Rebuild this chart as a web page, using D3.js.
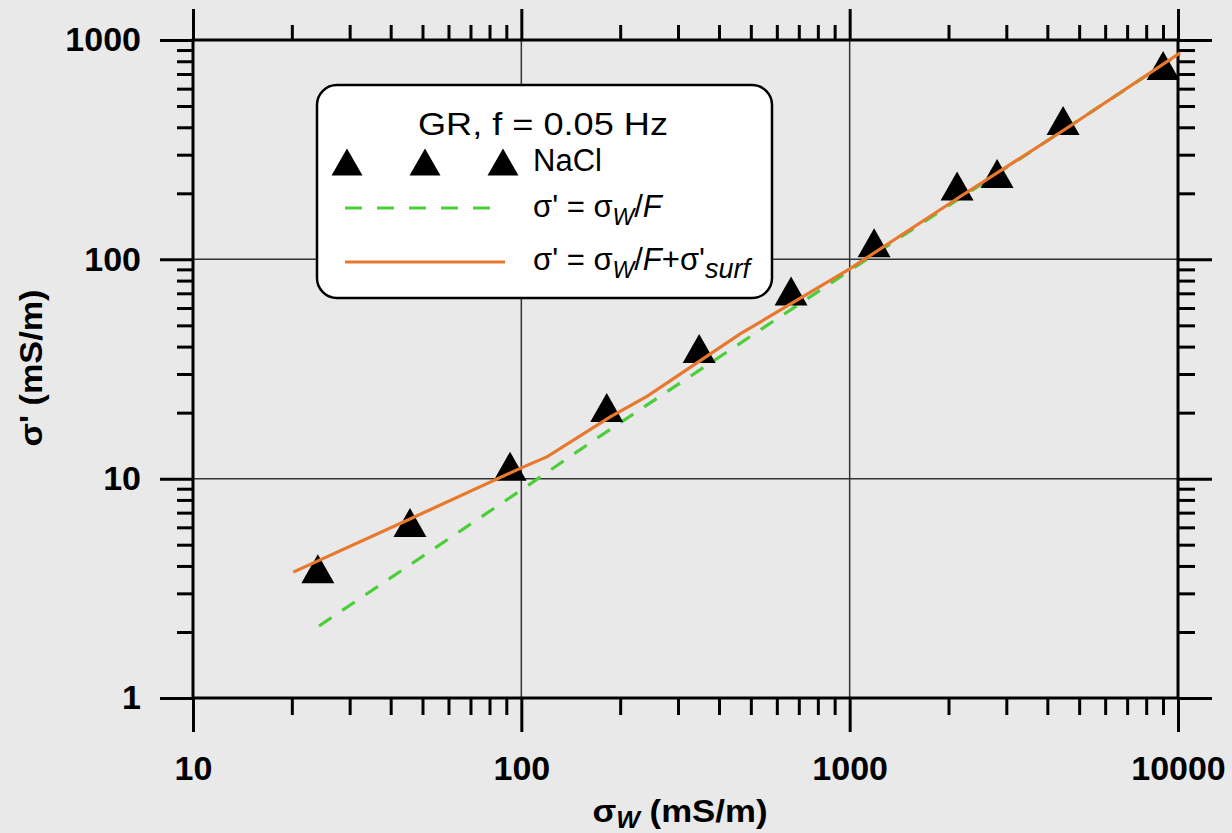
<!DOCTYPE html>
<html>
<head>
<meta charset="utf-8">
<script src="https://cdn.jsdelivr.net/npm/d3@7"></script>
<style>
  body { margin: 0; background: #e9e9e9; }
  svg { display: block; font-family: "Liberation Sans", Arial, sans-serif; }
</style>
</head>
<body>
<div id="chart"></div>
<script>
// measured points (NaCl)
var sigmaW    = [24.0, 45.8, 92.4, 182, 348, 663, 1187, 2124, 2812, 4467, 9009];
var sigmaReal = [3.88, 6.31, 11.4, 21.1, 39.2, 71.8, 119, 216, 246, 430, 766];

// sigma' = sigmaW / F
var archieW = [24.2, 100, 170, 1000, 10150];
var archieY = [2.13, 8.88, 15.3, 88.8, 868];

// sigma' = sigmaW / F + sigma'surf
var fitW = [20.2, 45.8, 100, 120, 186, 242, 464, 1000, 2215, 4594, 10150];
var fitY = [3.75, 6.55, 11.2, 12.6, 19.1, 23.8, 45.7, 90.4, 197, 397, 873];

var majorX = [10, 100, 1000, 10000];
var majorY = [1, 10, 100, 1000];

var width = 1232, height = 833;
var plot = {left: 193, right: 1178, top: 40, bottom: 698};

var svg = d3.select("#chart").append("svg")
  .attr("width", width)
  .attr("height", height);

svg.append("rect").attr("width", width).attr("height", height).attr("fill", "#e9e9e9");

var x = d3.scaleLog().domain([10, 10000]).range([plot.left, plot.right]);
var y = d3.scaleLog().domain([1, 1000]).range([plot.bottom, plot.top]);

// minor tick values
var minorX = [], minorY = [];
[10, 100, 1000].forEach(function(d) {
  for (var k = 2; k <= 9; k++) minorX.push(d * k);
});
[1, 10, 100].forEach(function(d) {
  for (var k = 2; k <= 9; k++) minorY.push(d * k);
});

// grid lines
svg.append("g").selectAll("line")
  .data(majorX.slice(1, 3)).enter().append("line")
  .attr("x1", d => x(d)).attr("x2", d => x(d))
  .attr("y1", plot.top).attr("y2", plot.bottom)
  .attr("stroke", "#333").attr("stroke-width", 1.5);
svg.append("g").selectAll("line")
  .data(majorY.slice(1, 3)).enter().append("line")
  .attr("y1", d => y(d)).attr("y2", d => y(d))
  .attr("x1", plot.left).attr("x2", plot.right)
  .attr("stroke", "#333").attr("stroke-width", 1.5);

// axes
function styleAxis(g) {
  g.select(".domain").remove();
  g.selectAll(".tick line").attr("stroke", "#000").attr("stroke-width", 3);
}
var fmt = d3.format("d");

svg.append("g").attr("transform", "translate(0," + plot.bottom + ")")
  .call(d3.axisBottom(x).tickValues(majorX).tickFormat(fmt).tickSize(34).tickPadding(24))
  .call(styleAxis)
  .selectAll("text")
  .attr("font-size", 34).attr("font-weight", "bold").attr("fill", "#000")
  .attr("font-family", "Liberation Sans, Arial, sans-serif");
svg.append("g").attr("transform", "translate(0," + plot.bottom + ")")
  .call(d3.axisBottom(x).tickValues(minorX).tickFormat("").tickSize(17))
  .call(styleAxis);
svg.append("g").attr("transform", "translate(0," + plot.top + ")")
  .call(d3.axisTop(x).tickValues(majorX).tickFormat("").tickSize(31))
  .call(styleAxis);
svg.append("g").attr("transform", "translate(0," + plot.top + ")")
  .call(d3.axisTop(x).tickValues(minorX).tickFormat("").tickSize(15))
  .call(styleAxis);

svg.append("g").attr("transform", "translate(" + plot.left + ",0)")
  .call(d3.axisLeft(y).tickValues(majorY).tickFormat(fmt).tickSize(33).tickPadding(19))
  .call(styleAxis)
  .selectAll("text")
  .attr("font-size", 34).attr("font-weight", "bold").attr("fill", "#000")
  .attr("font-family", "Liberation Sans, Arial, sans-serif");
svg.append("g").attr("transform", "translate(" + plot.left + ",0)")
  .call(d3.axisLeft(y).tickValues(minorY).tickFormat("").tickSize(16))
  .call(styleAxis);
svg.append("g").attr("transform", "translate(" + plot.right + ",0)")
  .call(d3.axisRight(y).tickValues(majorY).tickFormat("").tickSize(34))
  .call(styleAxis);
svg.append("g").attr("transform", "translate(" + plot.right + ",0)")
  .call(d3.axisRight(y).tickValues(minorY).tickFormat("").tickSize(17))
  .call(styleAxis);

// frame
svg.append("rect")
  .attr("x", plot.left).attr("y", plot.top)
  .attr("width", plot.right - plot.left).attr("height", plot.bottom - plot.top)
  .attr("fill", "none").attr("stroke", "#000").attr("stroke-width", 3);

// lines
var archie = archieW.map((d, i) => [d, archieY[i]]);
var fit = fitW.map((d, i) => [d, fitY[i]]);
var line = d3.line().x(d => x(d[0])).y(d => y(d[1]));

svg.append("path").datum(archie)
  .attr("d", line).attr("fill", "none")
  .attr("stroke", "#4ccd3a").attr("stroke-width", 3.2)
  .attr("stroke-dasharray", "15,13");

// triangles
function tri(cx, cy, w, h) {
  return "M" + cx + "," + (cy - h / 2) + "L" + (cx + w / 2) + "," + (cy + h / 2) +
    "L" + (cx - w / 2) + "," + (cy + h / 2) + "Z";
}
svg.append("g").selectAll("path")
  .data(sigmaW.map((d, i) => [d, sigmaReal[i]]))
  .enter().append("path")
  .attr("d", d => tri(x(d[0]), y(d[1]), 33, 29))
  .attr("fill", "#000");

svg.append("path").datum(fit)
  .attr("d", line).attr("fill", "none")
  .attr("stroke", "#e8782e").attr("stroke-width", 3.2);

// legend
var lg = svg.append("g");
lg.append("rect")
  .attr("x", 317).attr("y", 85).attr("width", 455).attr("height", 213)
  .attr("rx", 20).attr("ry", 20)
  .attr("fill", "#fff").attr("stroke", "#000").attr("stroke-width", 2.5);

lg.append("text").attr("x", 543).attr("y", 135)
  .attr("text-anchor", "middle").attr("font-size", 31)
  .attr("textLength", 250).attr("lengthAdjust", "spacingAndGlyphs")
  .text("GR, f = 0.05 Hz");

[347, 425, 503].forEach(function(cx) {
  lg.append("path").attr("d", tri(cx, 162, 31, 27)).attr("fill", "#000");
});
lg.append("text").attr("x", 533).attr("y", 171).attr("font-size", 31).text("NaCl");

lg.append("line").attr("x1", 345).attr("x2", 498).attr("y1", 208).attr("y2", 208)
  .attr("stroke", "#4ccd3a").attr("stroke-width", 3.2).attr("stroke-dasharray", "17,15");
var t1 = lg.append("text").attr("x", 533).attr("y", 217).attr("font-size", 31);
t1.append("tspan").text("σ' = σ");
t1.append("tspan").attr("font-size", 23).attr("dy", 8).attr("font-style", "italic").text("W");
t1.append("tspan").attr("dy", -8).text("/");
t1.append("tspan").attr("font-style", "italic").text("F");

lg.append("line").attr("x1", 345).attr("x2", 505).attr("y1", 262).attr("y2", 262)
  .attr("stroke", "#e8782e").attr("stroke-width", 3.2);
var t2 = lg.append("text").attr("x", 533).attr("y", 270).attr("font-size", 31);
t2.append("tspan").text("σ' = σ");
t2.append("tspan").attr("font-size", 23).attr("dy", 8).attr("font-style", "italic").text("W");
t2.append("tspan").attr("dy", -8).text("/");
t2.append("tspan").attr("font-style", "italic").text("F");
t2.append("tspan").text("+σ'");
t2.append("tspan").attr("font-size", 27).attr("dy", 8).attr("font-style", "italic").text("surf");

// axis titles
var xt = svg.append("text").attr("x", 680).attr("y", 822)
  .attr("text-anchor", "middle").attr("font-size", 32).attr("font-weight", "bold")
  .attr("textLength", 175).attr("lengthAdjust", "spacingAndGlyphs");
xt.append("tspan").text("σ");
xt.append("tspan").attr("font-size", 23).attr("font-style", "italic").attr("dy", 6).text("W");
xt.append("tspan").attr("dy", -6).text(" (mS/m)");

svg.append("text")
  .attr("transform", "translate(42,368) rotate(-90)")
  .attr("text-anchor", "middle").attr("font-size", 32).attr("font-weight", "bold")
  .attr("textLength", 157).attr("lengthAdjust", "spacingAndGlyphs")
  .text("σ' (mS/m)");
</script>
</body>
</html>
